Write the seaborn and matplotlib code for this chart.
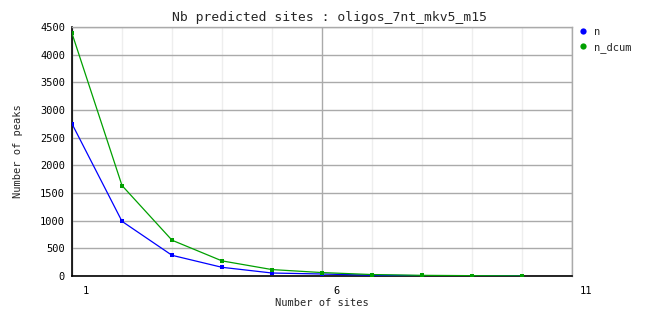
import matplotlib
matplotlib.use("Agg")
import matplotlib.pyplot as plt
import matplotlib.transforms as mtransforms
from matplotlib.lines import Line2D
from matplotlib.ticker import MultipleLocator, FixedLocator
import seaborn as sns
import pandas as pd

sites = [1, 2, 3, 4, 5, 6, 7, 8, 9, 10]
n = [2750, 988, 374, 157, 54, 36, 14, 6, 4, 2]
n_dcum = [4385, 1635, 647, 273, 116, 62, 26, 12, 6, 2]
x_ticks = [1, 6, 11]
series_names = ["n", "n_dcum"]
colors = ["#0000ff", "#00a000"]

df = pd.DataFrame({
    "sites": sites * 2,
    "value": n + n_dcum,
    "series": [series_names[0]] * len(sites) + [series_names[1]] * len(sites),
})

sns.set_style("white")
plt.rcParams["font.family"] = ["DejaVu Sans Mono"]

W, H = 662, 328
fig = plt.figure(figsize=(W / 100, H / 100), dpi=100)
ax = fig.add_axes([72 / W, 1 - 276 / H, 500 / W, 249 / H])

sns.lineplot(data=df, x="sites", y="value", hue="series", palette=colors,
             marker="s", markersize=3.2, markeredgewidth=0, linewidth=0.9,
             ax=ax, legend=False, zorder=3)

ax.set_xlim(1, 11)
ax.set_ylim(0, 4500)
ax.xaxis.set_major_locator(FixedLocator(x_ticks))
ax.xaxis.set_minor_locator(MultipleLocator(1))
ax.set_xticks(x_ticks)
ax.set_xticklabels([str(t) for t in x_ticks])
ax.yaxis.set_major_locator(MultipleLocator(500))
ax.grid(True, which="major", axis="both", color="#aaaaaa", linewidth=1.0, zorder=0)
ax.grid(True, which="minor", axis="x", color="#eeeeee", linewidth=1.0, zorder=0)
ax.set_axisbelow(True)

for s in ["top", "right"]:
    ax.spines[s].set_color("#aaaaaa")
    ax.spines[s].set_linewidth(1.0)
for s in ["left", "bottom"]:
    ax.spines[s].set_color("black")
    ax.spines[s].set_linewidth(1.2)

ax.tick_params(axis="both", which="both", length=0, labelsize=7.5, colors="black")
ax.tick_params(axis="x", pad=7)
ax.tick_params(axis="y", pad=5)
offset = mtransforms.ScaledTranslation(14 / 100, 0, fig.dpi_scale_trans)
for lab in ax.get_xticklabels():
    lab.set_transform(lab.get_transform() + offset)

ax.set_xlabel("")
ax.set_ylabel("")
fig.text(322 / W, 1 - 303 / H, "Number of sites", ha="center", va="center", fontsize=7.5)
fig.text(18 / W, 1 - 151 / H, "Number of peaks", ha="center", va="center",
         rotation=90, fontsize=7.5)
fig.text(330 / W, 1 - 18 / H, "Nb predicted sites : oligos_7nt_mkv5_m15",
         ha="center", va="center", fontsize=9.4)

handles = [Line2D([], [], linestyle="none", marker="o", markersize=4.5,
                  color=c, markeredgewidth=0) for c in colors]
fig.legend(handles, series_names, loc="upper left",
           bbox_to_anchor=(579 / W, 1 - 27 / H), frameon=False,
           fontsize=7.5, handlelength=0.8, handletextpad=0.6,
           labelspacing=0.45, borderpad=0, borderaxespad=0)

fig.savefig("out.png", dpi=100, facecolor="white")
